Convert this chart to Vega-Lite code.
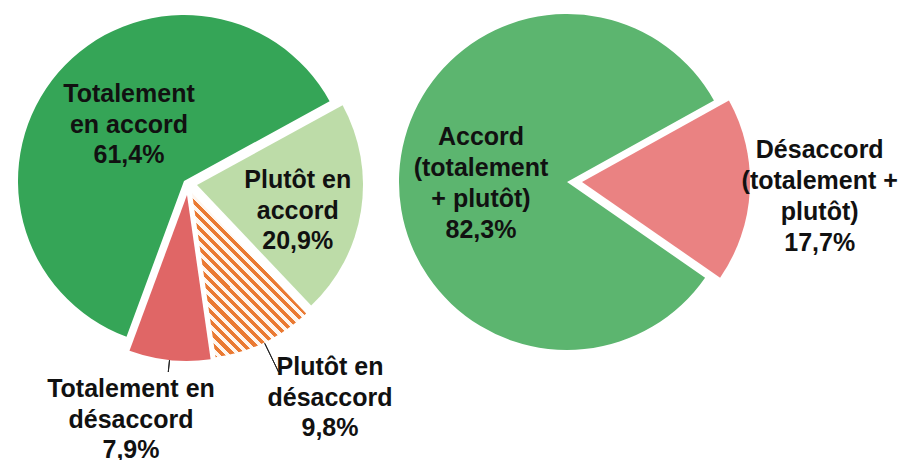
{
  "$schema": "https://vega.github.io/schema/vega-lite/v6.json",
  "padding": 0,
  "autosize": {"type": "pad"},
  "background": "white",
  "spacing": 0,
  "bounds": "flush",
  "config": {"view": {"stroke": null}},
  "hconcat": [
    {
      "width": 368,
      "height": 362,
      "data": {"values": [
        {"order": 1, "cat": "Plutôt en accord", "value": 20.9, "label": "Plutôt en\naccord\n20,9%"},
        {"order": 2, "cat": "Plutôt en désaccord", "value": 9.8, "label": "Plutôt en\ndésaccord\n9,8%"},
        {"order": 3, "cat": "Totalement en désaccord", "value": 7.9, "label": "Totalement en\ndésaccord\n7,9%"},
        {"order": 4, "cat": "Totalement en accord", "value": 61.4, "label": "Totalement\nen accord\n61,4%"}
      ]},
      "encoding": {
        "theta": {"field": "value", "type": "quantitative", "stack": true, "scale": {"range": [1.0699, 7.3531]}},
        "order": {"field": "order", "type": "quantitative"}
      },
      "layer": [
        {
          "mark": {"type": "arc", "outerRadius": 166, "fill": "#35a557"},
          "encoding": {"fillOpacity": {"condition": {"test": "datum.cat === 'Totalement en accord'", "value": 1}, "value": 0}}
        },
        {
          "mark": {"type": "arc", "outerRadius": 166, "xOffset": 13, "yOffset": 4, "fill": "#bddca8"},
          "encoding": {"fillOpacity": {"condition": {"test": "datum.cat === 'Plutôt en accord'", "value": 1}, "value": 0}}
        },
        {
          "mark": {"type": "arc", "outerRadius": 166, "xOffset": 8, "yOffset": 12,
            "fill": {"gradient": "linear", "x1": 0, "y1": 1, "x2": 0.795, "y2": -0.1426, "stops": [
              {"offset": 0, "color": "#ea7a33"}, {"offset": 0.0185, "color": "#ea7a33"}, {"offset": 0.0185, "color": "#fff6ef"}, {"offset": 0.037, "color": "#fff6ef"},
              {"offset": 0.037, "color": "#ea7a33"}, {"offset": 0.0556, "color": "#ea7a33"}, {"offset": 0.0556, "color": "#fff6ef"}, {"offset": 0.0741, "color": "#fff6ef"},
              {"offset": 0.0741, "color": "#ea7a33"}, {"offset": 0.0926, "color": "#ea7a33"}, {"offset": 0.0926, "color": "#fff6ef"}, {"offset": 0.1111, "color": "#fff6ef"},
              {"offset": 0.1111, "color": "#ea7a33"}, {"offset": 0.1296, "color": "#ea7a33"}, {"offset": 0.1296, "color": "#fff6ef"}, {"offset": 0.1481, "color": "#fff6ef"},
              {"offset": 0.1481, "color": "#ea7a33"}, {"offset": 0.1667, "color": "#ea7a33"}, {"offset": 0.1667, "color": "#fff6ef"}, {"offset": 0.1852, "color": "#fff6ef"},
              {"offset": 0.1852, "color": "#ea7a33"}, {"offset": 0.2037, "color": "#ea7a33"}, {"offset": 0.2037, "color": "#fff6ef"}, {"offset": 0.2222, "color": "#fff6ef"},
              {"offset": 0.2222, "color": "#ea7a33"}, {"offset": 0.2407, "color": "#ea7a33"}, {"offset": 0.2407, "color": "#fff6ef"}, {"offset": 0.2593, "color": "#fff6ef"},
              {"offset": 0.2593, "color": "#ea7a33"}, {"offset": 0.2778, "color": "#ea7a33"}, {"offset": 0.2778, "color": "#fff6ef"}, {"offset": 0.2963, "color": "#fff6ef"},
              {"offset": 0.2963, "color": "#ea7a33"}, {"offset": 0.3148, "color": "#ea7a33"}, {"offset": 0.3148, "color": "#fff6ef"}, {"offset": 0.3333, "color": "#fff6ef"},
              {"offset": 0.3333, "color": "#ea7a33"}, {"offset": 0.3519, "color": "#ea7a33"}, {"offset": 0.3519, "color": "#fff6ef"}, {"offset": 0.3704, "color": "#fff6ef"},
              {"offset": 0.3704, "color": "#ea7a33"}, {"offset": 0.3889, "color": "#ea7a33"}, {"offset": 0.3889, "color": "#fff6ef"}, {"offset": 0.4074, "color": "#fff6ef"},
              {"offset": 0.4074, "color": "#ea7a33"}, {"offset": 0.4259, "color": "#ea7a33"}, {"offset": 0.4259, "color": "#fff6ef"}, {"offset": 0.4444, "color": "#fff6ef"},
              {"offset": 0.4444, "color": "#ea7a33"}, {"offset": 0.463, "color": "#ea7a33"}, {"offset": 0.463, "color": "#fff6ef"}, {"offset": 0.4815, "color": "#fff6ef"},
              {"offset": 0.4815, "color": "#ea7a33"}, {"offset": 0.5, "color": "#ea7a33"}, {"offset": 0.5, "color": "#fff6ef"}, {"offset": 0.5185, "color": "#fff6ef"},
              {"offset": 0.5185, "color": "#ea7a33"}, {"offset": 0.537, "color": "#ea7a33"}, {"offset": 0.537, "color": "#fff6ef"}, {"offset": 0.5556, "color": "#fff6ef"},
              {"offset": 0.5556, "color": "#ea7a33"}, {"offset": 0.5741, "color": "#ea7a33"}, {"offset": 0.5741, "color": "#fff6ef"}, {"offset": 0.5926, "color": "#fff6ef"},
              {"offset": 0.5926, "color": "#ea7a33"}, {"offset": 0.6111, "color": "#ea7a33"}, {"offset": 0.6111, "color": "#fff6ef"}, {"offset": 0.6296, "color": "#fff6ef"},
              {"offset": 0.6296, "color": "#ea7a33"}, {"offset": 0.6481, "color": "#ea7a33"}, {"offset": 0.6481, "color": "#fff6ef"}, {"offset": 0.6667, "color": "#fff6ef"},
              {"offset": 0.6667, "color": "#ea7a33"}, {"offset": 0.6852, "color": "#ea7a33"}, {"offset": 0.6852, "color": "#fff6ef"}, {"offset": 0.7037, "color": "#fff6ef"},
              {"offset": 0.7037, "color": "#ea7a33"}, {"offset": 0.7222, "color": "#ea7a33"}, {"offset": 0.7222, "color": "#fff6ef"}, {"offset": 0.7407, "color": "#fff6ef"},
              {"offset": 0.7407, "color": "#ea7a33"}, {"offset": 0.7593, "color": "#ea7a33"}, {"offset": 0.7593, "color": "#fff6ef"}, {"offset": 0.7778, "color": "#fff6ef"},
              {"offset": 0.7778, "color": "#ea7a33"}, {"offset": 0.7963, "color": "#ea7a33"}, {"offset": 0.7963, "color": "#fff6ef"}, {"offset": 0.8148, "color": "#fff6ef"},
              {"offset": 0.8148, "color": "#ea7a33"}, {"offset": 0.8333, "color": "#ea7a33"}, {"offset": 0.8333, "color": "#fff6ef"}, {"offset": 0.8519, "color": "#fff6ef"},
              {"offset": 0.8519, "color": "#ea7a33"}, {"offset": 0.8704, "color": "#ea7a33"}, {"offset": 0.8704, "color": "#fff6ef"}, {"offset": 0.8889, "color": "#fff6ef"},
              {"offset": 0.8889, "color": "#ea7a33"}, {"offset": 0.9074, "color": "#ea7a33"}, {"offset": 0.9074, "color": "#fff6ef"}, {"offset": 0.9259, "color": "#fff6ef"},
              {"offset": 0.9259, "color": "#ea7a33"}, {"offset": 0.9444, "color": "#ea7a33"}, {"offset": 0.9444, "color": "#fff6ef"}, {"offset": 0.963, "color": "#fff6ef"},
              {"offset": 0.963, "color": "#ea7a33"}, {"offset": 0.9815, "color": "#ea7a33"}, {"offset": 0.9815, "color": "#fff6ef"}, {"offset": 1, "color": "#fff6ef"}
            ]}},
          "encoding": {"fillOpacity": {"condition": {"test": "datum.cat === 'Plutôt en désaccord'", "value": 1}, "value": 0}}
        },
        {
          "mark": {"type": "arc", "outerRadius": 166, "xOffset": 3, "yOffset": 14, "fill": "#e06666"},
          "encoding": {"fillOpacity": {"condition": {"test": "datum.cat === 'Totalement en désaccord'", "value": 1}, "value": 0}}
        },
        {
          "mark": {"type": "arc", "innerRadius": 166, "outerRadius": 178, "padAngle": 3, "xOffset": 3, "yOffset": 14, "fill": "transparent", "stroke": "#222222", "strokeWidth": 1},
          "encoding": {"strokeOpacity": {"condition": {"test": "datum.cat === 'Totalement en désaccord'", "value": 1}, "value": 0}}
        },
        {
          "mark": {"type": "arc", "innerRadius": 167, "outerRadius": 199, "padAngle": 3, "xOffset": 8, "yOffset": 12, "fill": "transparent", "stroke": "#222222", "strokeWidth": 1},
          "encoding": {"strokeOpacity": {"condition": {"test": "datum.cat === 'Plutôt en désaccord'", "value": 1}, "value": 0}}
        },
        {
          "transform": [{"filter": "datum.cat === 'Totalement en accord'"}],
          "mark": {"type": "text", "radius": 0, "dx": -55, "dy": -79, "align": "center", "baseline": "alphabetic", "lineBreak": "\n", "font": "Liberation Sans", "fontSize": 25, "fontWeight": "bold", "lineHeight": 30.5, "fill": "#111111"},
          "encoding": {"text": {"field": "label"}}
        },
        {
          "transform": [{"filter": "datum.cat === 'Plutôt en accord'"}],
          "mark": {"type": "text", "radius": 104, "dx": 11, "dy": -9, "align": "center", "baseline": "alphabetic", "lineBreak": "\n", "font": "Liberation Sans", "fontSize": 25, "fontWeight": "bold", "lineHeight": 30.5, "fill": "#111111"},
          "encoding": {"text": {"field": "label"}}
        },
        {
          "transform": [{"filter": "datum.cat === 'Plutôt en désaccord'"}],
          "mark": {"type": "text", "radius": 0, "dx": 146, "dy": 194, "align": "center", "baseline": "alphabetic", "lineBreak": "\n", "font": "Liberation Sans", "fontSize": 25, "fontWeight": "bold", "lineHeight": 30.5, "fill": "#111111"},
          "encoding": {"text": {"field": "label"}}
        },
        {
          "transform": [{"filter": "datum.cat === 'Totalement en désaccord'"}],
          "mark": {"type": "text", "radius": 0, "dx": -53, "dy": 216, "align": "center", "baseline": "alphabetic", "lineBreak": "\n", "font": "Liberation Sans", "fontSize": 25, "fontWeight": "bold", "lineHeight": 30.5, "fill": "#111111"},
          "encoding": {"text": {"field": "label"}}
        }
      ]
    },
    {
      "width": 398,
      "height": 364,
      "data": {"values": [
        {"order": 1, "cat": "Désaccord", "value": 17.7, "label": "Désaccord\n(totalement +\nplutôt)\n17,7%"},
        {"order": 2, "cat": "Accord", "value": 82.3, "label": "Accord\n(totalement\n+ plutôt)\n82,3%"}
      ]},
      "encoding": {
        "theta": {"field": "value", "type": "quantitative", "stack": true, "scale": {"range": [1.0647, 7.3479]}},
        "order": {"field": "order", "type": "quantitative"}
      },
      "layer": [
        {
          "mark": {"type": "arc", "outerRadius": 168, "fill": "#5cb56f"},
          "encoding": {"fillOpacity": {"condition": {"test": "datum.cat === 'Accord'", "value": 1}, "value": 0}}
        },
        {
          "mark": {"type": "arc", "outerRadius": 168, "xOffset": 15, "yOffset": 0, "fill": "#ea8282"},
          "encoding": {"fillOpacity": {"condition": {"test": "datum.cat === 'Désaccord'", "value": 1}, "value": 0}}
        },
        {
          "transform": [{"filter": "datum.cat === 'Accord'"}],
          "mark": {"type": "text", "radius": 0, "dx": -86, "dy": -37, "align": "center", "baseline": "alphabetic", "lineBreak": "\n", "font": "Liberation Sans", "fontSize": 25, "fontWeight": "bold", "lineHeight": 31, "fill": "#111111"},
          "encoding": {"text": {"field": "label"}}
        },
        {
          "transform": [{"filter": "datum.cat === 'Désaccord'"}],
          "mark": {"type": "text", "radius": 238, "dx": 15, "dy": -36, "align": "center", "baseline": "alphabetic", "lineBreak": "\n", "font": "Liberation Sans", "fontSize": 25, "fontWeight": "bold", "lineHeight": 31, "fill": "#111111"},
          "encoding": {"text": {"field": "label"}}
        }
      ]
    }
  ]
}
